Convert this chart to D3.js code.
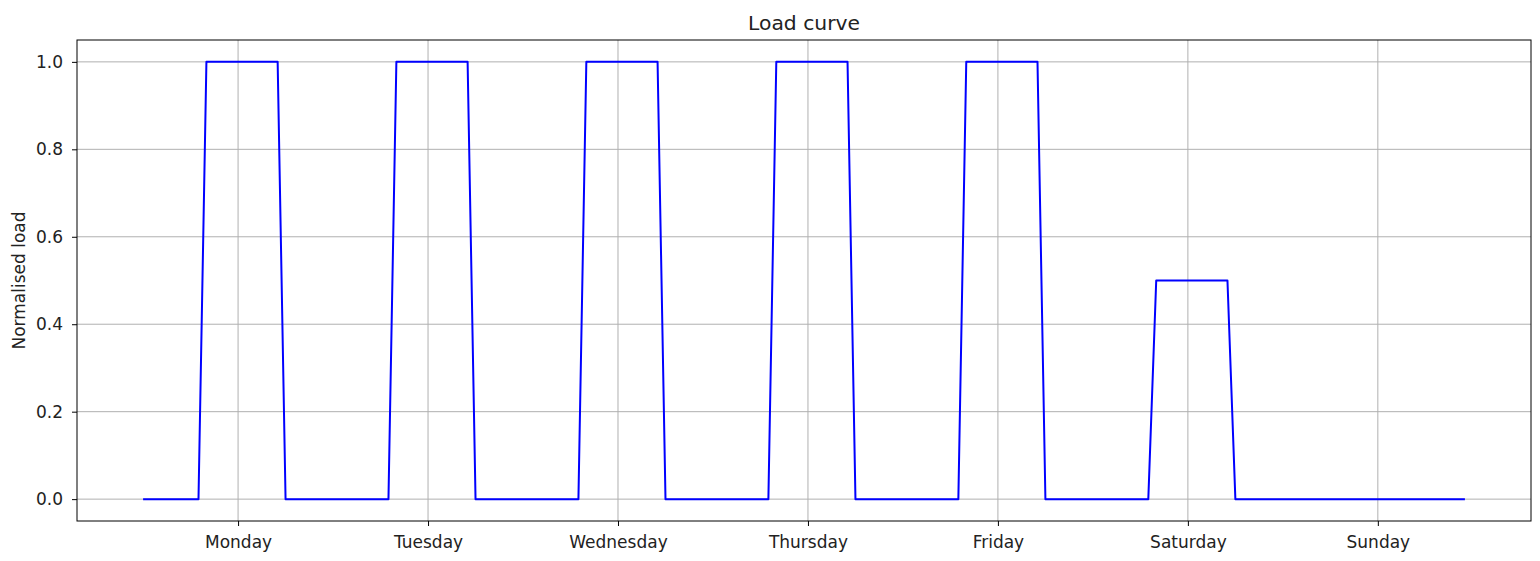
<!DOCTYPE html>
<html>
<head>
<meta charset="utf-8">
<script src="https://cdn.jsdelivr.net/npm/d3@7"></script>
<style>
  body { margin: 0; background: #fff; }
  text { font-family: "DejaVu Sans", sans-serif; fill: #222; }
</style>
</head>
<body>
<div id="chart"></div>
<script>
// hourly normalised load, one array per day (hours 0..23)
var monday    = [0,0,0,0,0,0,0,0,1,1,1,1,1,1,1,1,1,1,0,0,0,0,0,0];
var tuesday   = [0,0,0,0,0,0,0,0,1,1,1,1,1,1,1,1,1,1,0,0,0,0,0,0];
var wednesday = [0,0,0,0,0,0,0,0,1,1,1,1,1,1,1,1,1,1,0,0,0,0,0,0];
var thursday  = [0,0,0,0,0,0,0,0,1,1,1,1,1,1,1,1,1,1,0,0,0,0,0,0];
var friday    = [0,0,0,0,0,0,0,0,1,1,1,1,1,1,1,1,1,1,0,0,0,0,0,0];
var saturday  = [0,0,0,0,0,0,0,0,0.5,0.5,0.5,0.5,0.5,0.5,0.5,0.5,0.5,0.5,0,0,0,0,0,0];
var sunday    = [0,0,0,0,0,0,0,0,0,0,0,0,0,0,0,0,0,0,0,0,0,0,0,0];

var dayNames = ["Monday", "Tuesday", "Wednesday", "Thursday", "Friday", "Saturday", "Sunday"];
var dayTicks = [12, 36, 60, 84, 108, 132, 156];
var yTicks = [0.0, 0.2, 0.4, 0.6, 0.8, 1.0];

var load = [].concat(monday, tuesday, wednesday, thursday, friday, saturday, sunday);
var data = load.map(function(v, i) { return {hour: i, value: v}; });

var width = 1540, height = 561;
var margin = {top: 40, right: 9, bottom: 40, left: 77};
var innerW = width - margin.left - margin.right,
    innerH = height - margin.top - margin.bottom;

var svg = d3.select("#chart").append("svg")
  .attr("width", width)
  .attr("height", height);

var xPad = (load.length - 1) * 0.05;
var x = d3.scaleLinear()
  .domain([-xPad, load.length - 1 + xPad])
  .range([margin.left, margin.left + innerW]);

var y = d3.scaleLinear()
  .domain([-0.05, 1.05])
  .range([margin.top + innerH, margin.top]);

// grid
var grid = svg.append("g").attr("class", "grid");
grid.selectAll(".vgrid")
  .data(dayTicks)
  .enter().append("line")
  .attr("x1", function(d) { return x(d); })
  .attr("x2", function(d) { return x(d); })
  .attr("y1", margin.top)
  .attr("y2", margin.top + innerH)
  .attr("stroke", "#b0b0b0")
  .attr("stroke-width", 1);
grid.selectAll(".hgrid")
  .data(yTicks)
  .enter().append("line")
  .attr("x1", margin.left)
  .attr("x2", margin.left + innerW)
  .attr("y1", function(d) { return y(d); })
  .attr("y2", function(d) { return y(d); })
  .attr("stroke", "#b0b0b0")
  .attr("stroke-width", 1);

// line
var line = d3.line()
  .x(function(d) { return x(d.hour); })
  .y(function(d) { return y(d.value); });

svg.append("path")
  .datum(data)
  .attr("fill", "none")
  .attr("stroke", "#0000ff")
  .attr("stroke-width", 2)
  .attr("stroke-linejoin", "round")
  .attr("d", line);

// axes
var xAxis = d3.axisBottom(x)
  .tickValues(dayTicks)
  .tickFormat(function(d, i) { return dayNames[i]; })
  .tickSize(5)
  .tickPadding(10);

var yAxis = d3.axisLeft(y)
  .tickValues(yTicks)
  .tickFormat(d3.format(".1f"))
  .tickSize(5)
  .tickPadding(9);

var gx = svg.append("g")
  .attr("transform", "translate(0," + (margin.top + innerH) + ")")
  .call(xAxis);
var gy = svg.append("g")
  .attr("transform", "translate(" + margin.left + ",0)")
  .call(yAxis);

[gx, gy].forEach(function(g) {
  g.select(".domain").remove();
  g.selectAll(".tick line").attr("stroke", "#000").attr("stroke-width", 1);
  g.selectAll(".tick text").style("font-size", "17px").style("fill", "#222");
});

// frame
svg.append("rect")
  .attr("x", margin.left)
  .attr("y", margin.top)
  .attr("width", innerW)
  .attr("height", innerH)
  .attr("fill", "none")
  .attr("stroke", "#000")
  .attr("stroke-width", 1);

// title and label
svg.append("text")
  .attr("x", margin.left + innerW / 2)
  .attr("y", 30)
  .attr("text-anchor", "middle")
  .style("font-size", "20.3px")
  .text("Load curve");

svg.append("text")
  .attr("transform", "translate(25," + (margin.top + innerH / 2) + ") rotate(-90)")
  .attr("text-anchor", "middle")
  .style("font-size", "17px")
  .text("Normalised load");
</script>
</body>
</html>
